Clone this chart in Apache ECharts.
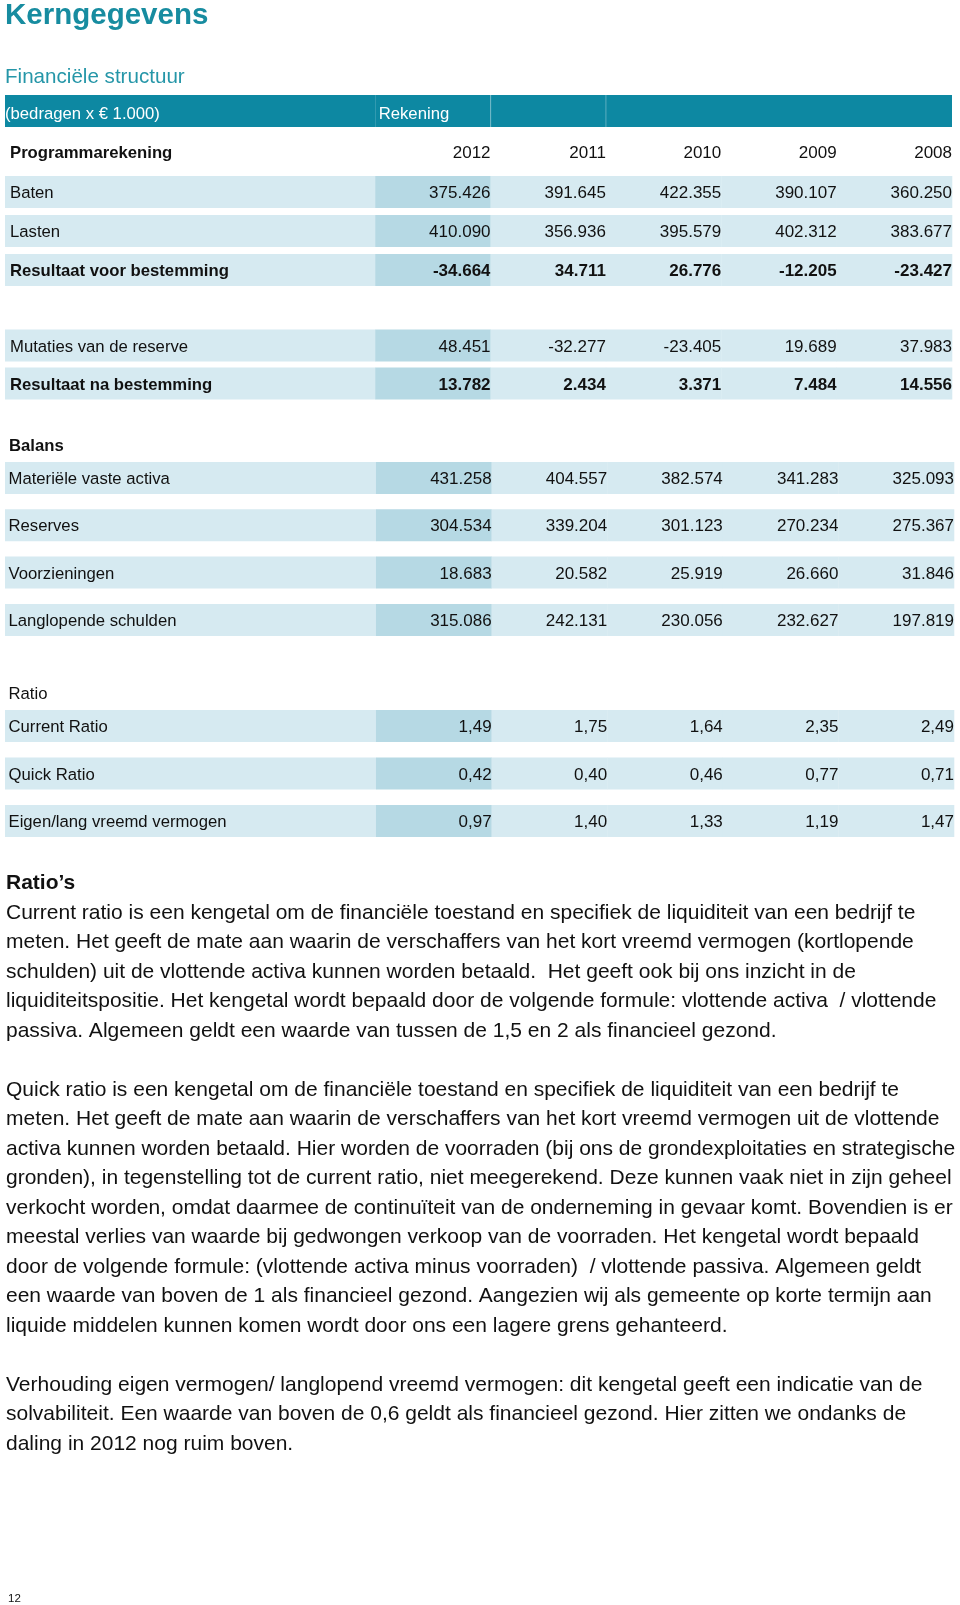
<!DOCTYPE html>
<html><head><meta charset="utf-8">
<script src="https://cdn.jsdelivr.net/npm/echarts@6/dist/echarts.min.js"></script>
<style>html,body{margin:0;padding:0;background:#fff}#chart{width:960px;height:1605px}</style>
</head><body><div id="chart"></div>
<script>
// ---------- DATA ----------
const titleText = 'Kerngegevens';
const subtitleText = 'Financiële structuur';
const unitText = '(bedragen x € 1.000)';
const accountText = 'Rekening';
const years = ['2012', '2011', '2010', '2009', '2008'];

const programHead = 'Programmarekening';
const programRows = ['Baten', 'Lasten', 'Resultaat voor bestemming'];
const baten = [375426, 391645, 422355, 390107, 360250];
const lasten = [410090, 356936, 395579, 402312, 383677];
const resultaatVoor = [-34664, 34711, 26776, -12205, -23427];

const resultRows = ['Mutaties van de reserve', 'Resultaat na bestemming'];
const mutaties = [48451, -32277, -23405, 19689, 37983];
const resultaatNa = [13782, 2434, 3371, 7484, 14556];

const balansHead = 'Balans';
const balansRows = ['Materiële vaste activa', 'Reserves', 'Voorzieningen', 'Langlopende schulden'];
const materieleVasteActiva = [431258, 404557, 382574, 341283, 325093];
const reserves = [304534, 339204, 301123, 270234, 275367];
const voorzieningen = [18683, 20582, 25919, 26660, 31846];
const langlopendeSchulden = [315086, 242131, 230056, 232627, 197819];

const ratioHead = 'Ratio';
const ratioRows = ['Current Ratio', 'Quick Ratio', 'Eigen/lang vreemd vermogen'];
const currentRatio = [1.49, 1.75, 1.64, 2.35, 2.49];
const quickRatio = [0.42, 0.40, 0.46, 0.77, 0.71];
const eigenLang = [0.97, 1.40, 1.33, 1.19, 1.47];

const ratiosHeading = 'Ratio’s';
const paragraphLines = [
  'Current ratio is een kengetal om de financiële toestand en specifiek de liquiditeit van een bedrijf te',
  'meten. Het geeft de mate aan waarin de verschaffers van het kort vreemd vermogen (kortlopende',
  'schulden) uit de vlottende activa kunnen worden betaald.  Het geeft ook bij ons inzicht in de',
  'liquiditeitspositie. Het kengetal wordt bepaald door de volgende formule: vlottende activa  / vlottende',
  'passiva. Algemeen geldt een waarde van tussen de 1,5 en 2 als financieel gezond.',
  '',
  'Quick ratio is een kengetal om de financiële toestand en specifiek de liquiditeit van een bedrijf te',
  'meten. Het geeft de mate aan waarin de verschaffers van het kort vreemd vermogen uit de vlottende',
  'activa kunnen worden betaald. Hier worden de voorraden (bij ons de grondexploitaties en strategische',
  'gronden), in tegenstelling tot de current ratio, niet meegerekend. Deze kunnen vaak niet in zijn geheel',
  'verkocht worden, omdat daarmee de continuïteit van de onderneming in gevaar komt. Bovendien is er',
  'meestal verlies van waarde bij gedwongen verkoop van de voorraden. Het kengetal wordt bepaald',
  'door de volgende formule: (vlottende activa minus voorraden)  / vlottende passiva. Algemeen geldt',
  'een waarde van boven de 1 als financieel gezond. Aangezien wij als gemeente op korte termijn aan',
  'liquide middelen kunnen komen wordt door ons een lagere grens gehanteerd.',
  '',
  'Verhouding eigen vermogen/ langlopend vreemd vermogen: dit kengetal geeft een indicatie van de',
  'solvabiliteit. Een waarde van boven de 0,6 geldt als financieel gezond. Hier zitten we ondanks de',
  'daling in 2012 nog ruim boven.'
];
const pageNumber = '12';

// ---------- LAYOUT / STYLE ----------
const FONT = '"Liberation Sans", Arial, Helvetica, sans-serif';
const TEAL = '#0d88a2';
const TITLE_TEAL = '#178ca0';
const SUB_TEAL = '#2596a8';
const LIGHT = '#d6eaf1';
const DARK = '#b6d9e4';
const INK = '#111111';
const LABEL_SPAN = 3.209;   // width of label column in value-column units
const BAND_H = 32;
const SHIFT = 2;            // vertical offset of table rows
const TEXT_DY = 1.5;        // text sits slightly low in its band

function fmtThousands(n) {
  const s = Math.abs(n).toString();
  let out = '';
  for (let i = 0; i < s.length; i++) {
    if (i > 0 && (s.length - i) % 3 === 0) out += '.';
    out += s[i];
  }
  return (n < 0 ? '-' : '') + out;
}
function fmtRatio(n) { return n.toFixed(2).replace('.', ','); }

const sections = [
  { kind: 'band', rows: [unitText], values: [[accountText, '', '']], top: 95, step: 32 },
  { kind: 'head', rows: [programHead], values: [years], top: 149.5 - 19 + SHIFT, step: 38, boldLabel: true, pad: 5, rpad: 0 },
  { kind: 'data', rows: programRows, values: [baten, lasten, resultaatVoor], bold: [false, false, true],
    fmt: fmtThousands, top: 190 - 19.5 + SHIFT, step: 39, pad: 5, rpad: 0 },
  { kind: 'data', rows: resultRows, values: [mutaties, resultaatNa], bold: [false, true],
    fmt: fmtThousands, top: 343.5 - 19 + SHIFT, step: 38, pad: 5, rpad: 0 },
  { kind: 'head', rows: [balansHead], values: [['', '', '', '', '']], top: 443 - 17 + SHIFT, step: 34, boldLabel: true, pad: 4 },
  { kind: 'data', rows: balansRows, values: [materieleVasteActiva, reserves, voorzieningen, langlopendeSchulden],
    bold: [false, false, false, false], fmt: fmtThousands, top: 476 - 23.65 + SHIFT, step: 47.3, pad: 3.5, rpad: 0 },
  { kind: 'head', rows: [ratioHead], values: [['', '', '', '', '']], top: 691 - 17 + SHIFT, step: 34, boldLabel: false, pad: 3.5 },
  { kind: 'data', rows: ratioRows, values: [currentRatio, quickRatio, eigenLang], bold: [false, false, false],
    fmt: fmtRatio, top: 724 - 23.75 + SHIFT, step: 47.5, pad: 3.5, rpad: 0 }
];

const grids = [], xAxes = [], yAxes = [], series = [];
sections.forEach((sec, si) => {
  grids.push({ left: 5, right: sec.kind === 'data' && si >= 5 ? 6 : 8, top: sec.top, height: sec.step * sec.rows.length });
  xAxes.push({ gridIndex: si, type: 'value', min: -LABEL_SPAN, max: 5, show: false });
  yAxes.push({ gridIndex: si, type: 'category', data: sec.rows, inverse: true, show: false });

  const cells = [];
  const data = [];
  sec.rows.forEach((label, r) => {
    cells.push({ text: label, bold: sec.kind === 'data' ? sec.bold[r] : !!sec.boldLabel, col: -1 });
    data.push([-1, r]);
    if (sec.kind === 'band') {
      [[0, 1], [1, 2], [2, 5]].forEach((span, k) => {
        cells.push({ text: sec.values[r][k], span: span, col: k });
        data.push([span[0], r]);
      });
    } else {
      sec.values[r].forEach((v, c) => {
        const txt = sec.kind === 'data' ? sec.fmt(v) : v;
        cells.push({ text: txt, bold: sec.kind === 'data' ? sec.bold[r] : false, col: c });
        data.push([c, r]);
      });
    }
  });

  series.push({
    type: 'custom',
    xAxisIndex: si, yAxisIndex: si,
    data: data,
    silent: true,
    renderItem: function (params, api) {
      const cell = cells[params.dataIndex];
      const r = api.value(1);
      const children = [];
      if (sec.kind === 'band') {
        let xa, xb;
        if (cell.col === -1) { xa = -LABEL_SPAN; xb = 0; } else { xa = cell.span[0]; xb = cell.span[1]; }
        const p0 = api.coord([xa, r]), p1 = api.coord([xb, r]);
        const h = sec.step;
        children.push({ type: 'rect', shape: { x: p0[0], y: p0[1] - h / 2, width: p1[0] - p0[0], height: h },
          style: { fill: TEAL } });
        if (cell.col === 1 || cell.col === 2) {
          children.push({ type: 'rect', shape: { x: p0[0] - 0.5, y: p0[1] - h / 2, width: 1.2, height: h },
            style: { fill: 'rgba(255,255,255,0.22)' } });
        }
        if (cell.text) {
          children.push({ type: 'text', style: {
            text: cell.text, x: cell.col === -1 ? p0[0] : p0[0] + 3.5, y: p0[1] + 3,
            align: 'left', verticalAlign: 'middle', fill: '#ffffff',
            font: 'normal 16.7px ' + FONT } });
        }
        return { type: 'group', children: children };
      }
      const xa = cell.col === -1 ? -LABEL_SPAN : cell.col;
      const xb = cell.col === -1 ? 0 : cell.col + 1;
      const p0 = api.coord([xa, r]), p1 = api.coord([xb, r]);
      const cy = p0[1];
      if (sec.kind === 'data') {
        children.push({ type: 'rect', shape: { x: p0[0], y: cy - BAND_H / 2, width: p1[0] - p0[0] + 0.3, height: BAND_H },
          style: { fill: cell.col === 0 ? DARK : LIGHT } });
      }
      if (cell.text) {
        const left = cell.col === -1;
        children.push({ type: 'text', style: {
          text: cell.text,
          x: left ? p0[0] + sec.pad : p1[0] - (sec.rpad || 0),
          y: cy + TEXT_DY,
          align: left ? 'left' : 'right', verticalAlign: 'middle', fill: INK,
          font: (cell.bold ? 'bold ' : 'normal ') + (left ? '16.7px ' : '17px ') + FONT } });
      }
      return { type: 'group', children: children };
    }
  });
});

const chart = echarts.init(document.getElementById('chart'), null, { renderer: 'canvas' });
chart.setOption({
  backgroundColor: '#ffffff',
  animation: false,
  grid: grids, xAxis: xAxes, yAxis: yAxes, series: series,
  graphic: [
    { type: 'text', x: 5, y: 15.5, style: { text: titleText, font: 'bold 29.5px ' + FONT, fill: TITLE_TEAL, verticalAlign: 'middle' } },
    { type: 'text', x: 5, y: 77.5, style: { text: subtitleText, font: 'normal 20.6px ' + FONT, fill: SUB_TEAL, verticalAlign: 'middle' } },
    { type: 'text', x: 6, y: 883.5, style: { text: ratiosHeading, font: 'bold 21px ' + FONT, fill: INK, verticalAlign: 'middle' } },
    { type: 'text', x: 6, y: 913 - 14.75, style: { text: paragraphLines.join('\n'), font: 'normal 21px ' + FONT, lineHeight: 29.5, fill: INK, verticalAlign: 'top' } },
    { type: 'text', x: 8, y: 1599, style: { text: pageNumber, font: 'normal 11.5px ' + FONT, fill: INK, verticalAlign: 'middle' } }
  ]
});
</script></body></html>
